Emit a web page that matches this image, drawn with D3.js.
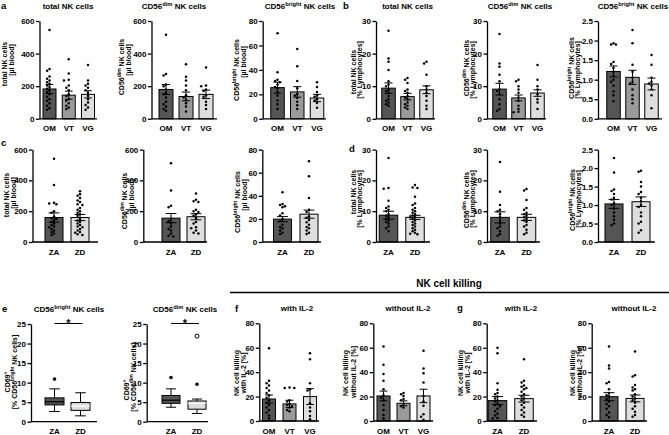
<!DOCTYPE html>
<html><head><meta charset="utf-8">
<script src="https://cdn.jsdelivr.net/npm/d3@7"></script>
<style>
html,body{margin:0;padding:0;background:#fff}
svg{display:block}
</style></head><body>
<svg id="chart" width="669" height="435"></svg>
<script>
// ---------- categories & ticks ----------
const groups3 = ["OM", "VT", "VG"];
const groups2 = ["ZA", "ZD"];
const ticksAbs = [0, 200, 400, 600];
const ticksBright = [0, 20, 40, 60, 80];
const ticksPct = [0, 10, 20, 30];
const ticksBrightPct = [0, 0.5, 1, 1.5, 2, 2.5];
const ticksCD69 = [0, 5, 10, 15, 20, 25];
const ticksKill = [0, 20, 40, 60, 80];

// ---------- a: cells / µl blood ----------
const a1_OM = [545, 305, 295, 260, 245, 235, 225, 215, 205, 195, 185, 175, 165, 150, 135, 120, 110, 95, 80, 65, 55];
const a1_VT = [365, 278, 240, 235, 205, 190, 175, 150, 140, 120, 110, 95, 80, 70, 60];
const a1_VG = [330, 235, 215, 205, 190, 175, 160, 140, 120, 100, 85, 70, 55];
const a1_mean = [183, 145, 150];
const a1_sem = [28, 25, 22];

const a2_OM = [515, 275, 265, 210, 200, 180, 160, 150, 130, 105, 90, 75, 60, 50];
const a2_VT = [335, 258, 235, 205, 175, 145, 130, 115, 95, 75, 45];
const a2_VG = [315, 205, 200, 180, 170, 145, 135, 105, 85, 60];
const a2_mean = [180, 137, 150];
const a2_sem = [30, 27, 26];

const a3_OM = [70, 38, 32, 31, 30, 28, 26, 25, 22, 19, 15, 12, 8];
const a3_VT = [57, 43, 31, 25, 20, 19, 17, 14, 11, 8];
const a3_VG = [30, 26, 22, 19, 18, 16, 15, 13, 9];
const a3_mean = [25.5, 22, 17];
const a3_sem = [4.5, 4.3, 3];

// ---------- b: % lymphocytes ----------
const b1_OM = [27, 18.5, 17.5, 15, 11.5, 10.5, 10, 9, 8.5, 8, 7, 6, 5.5, 5, 4.5, 4];
const b1_VT = [12.5, 12, 11, 9, 8.5, 8, 7, 6.5, 6, 5, 4.5, 4, 3.5, 3];
const b1_VG = [17.5, 17, 13.5, 10, 9, 8, 7, 5.5, 4, 3];
const b1_mean = [9.4, 6.8, 8.9];
const b1_sem = [1.6, 1.0, 1.2];

const b2_OM = [26, 17, 16, 13.5, 11.5, 9, 8.5, 7.5, 6, 4.5, 3, 2.5];
const b2_VT = [12, 11.5, 10, 9, 8, 6.5, 5.5, 4, 3, 2.2, 2];
const b2_VG = [16.5, 12, 10, 9, 7.5, 6, 5, 3];
const b2_mean = [9.1, 6.4, 7.9];
const b2_sem = [1.8, 0.9, 1.0];

const b3_OM = [1.93, 1.9, 1.9, 1.45, 1.4, 1.3, 1.2, 1.1, 1.0, 0.95, 0.85, 0.7, 0.6, 0.45];
const b3_VT = [2.27, 1.93, 1.38, 1.2, 1.05, 0.95, 0.9, 0.75, 0.6, 0.5, 0.4];
const b3_VG = [1.63, 1.38, 1.05, 0.95, 0.9, 0.85, 0.75, 0.6, 0.27];
const b3_mean = [1.21, 1.06, 0.89];
const b3_sem = [0.14, 0.18, 0.15];

// ---------- c: cells / µl blood, ZA vs ZD ----------
const c1_ZA = [540, 370, 255, 250, 245, 200, 190, 165, 155, 150, 140, 130, 120, 110, 100, 95, 85, 75, 65, 55, 45];
const c1_ZD = [330, 310, 300, 285, 270, 260, 245, 240, 220, 210, 200, 190, 180, 170, 150, 140, 130, 120, 110, 100, 95, 85, 75, 65, 60, 50, 45];
const c1_mean = [159, 159];
const c1_sem = [30, 20];

const c2_ZA = [512, 335, 235, 225, 150, 135, 120, 100, 85, 75, 55, 40, 35];
const c2_ZD = [315, 275, 265, 260, 210, 200, 195, 180, 170, 155, 130, 120, 95, 90, 75, 60, 55];
const c2_mean = [155, 164];
const c2_sem = [30, 20];

const c3_ZA = [43, 33, 32, 31, 30, 25, 23, 20, 18, 15, 13, 12, 10, 8, 7];
const c3_ZD = [70, 57, 38, 28, 26, 22, 21, 19, 17, 15, 13, 12, 10, 8, 7];
const c3_mean = [19.8, 24.1];
const c3_sem = [2.2, 3.5];

// ---------- d: % lymphocytes, ZA vs ZD ----------
const d1_ZA = [27.3, 17.5, 17.3, 13.4, 11.5, 11, 10.5, 10, 9, 8.5, 8, 7.5, 7, 6.5, 6, 5, 4.5, 3.5];
const d1_ZD = [18.5, 17.7, 17.5, 14.7, 12.5, 12, 11, 10.5, 10, 9.5, 9, 8.5, 8, 8, 7.5, 7, 6.5, 6, 5.5, 5, 4.5, 4, 3.5, 3, 2.7, 2.5];
const d1_mean = [8.7, 8.0];
const d1_sem = [1.3, 0.65];

const d2_ZA = [26, 16.3, 12, 10.5, 10, 9, 8, 7, 6, 5, 4.5, 3.5, 2.5, 2];
const d2_ZD = [17.2, 16.7, 13.6, 11, 10.5, 9.5, 9, 8.5, 8, 7.5, 7, 6.5, 5.5, 5, 4, 3, 2.5];
const d2_mean = [8.0, 8.0];
const d2_sem = [1.8, 1.0];

const d3_ZA = [2.27, 1.88, 1.42, 1.38, 1.3, 1.2, 1.15, 1.05, 1.0, 0.9, 0.8, 0.7, 0.6, 0.5, 0.45];
const d3_ZD = [1.93, 1.9, 1.62, 1.5, 1.35, 1.3, 1.2, 1.1, 1.0, 0.95, 0.8, 0.7, 0.55, 0.5, 0.32, 0.25];
const d3_mean = [1.03, 1.09];
const d3_sem = [0.12, 0.13];

// ---------- e: CD69+ box plots [min, q1, median, q3, max] ----------
const e1_ZA_box = [2.6, 4.3, 5.1, 6.1, 8.4];
const e1_ZD_box = [1.5, 2.9, 4.0, 4.9, 7.4];
const e1_ZA_out = [10.9];
const e1_ZD_out = [];
const e2_ZA_box = [3.7, 4.7, 5.5, 6.7, 8.4];
const e2_ZD_box = [2.1, 3.2, 4.7, 5.3, 5.8];
const e2_ZA_out = [11.3];
const e2_ZD_out = [9.6];
const e2_ZD_far = [21.9];

// ---------- f/g: NK cell killing ----------
const f1_OM = [59.5, 33, 31, 29, 27, 25, 23, 21, 19, 17, 15, 13, 11, 9, 7, 4.5, 2];
const f1_VT = [27.5, 27, 27, 17, 16, 14, 13, 12, 11, 9, 8];
const f1_VG = [55.5, 50.5, 31, 26, 25, 14.5, 11, 8, 4, 1.5];
const f1_mean = [18, 14, 20];
const f1_sem = [3.3, 3, 6.5];

const f2_OM = [61, 46, 38.5, 33, 26, 21, 19, 17, 13, 9, 5, 2];
const f2_VT = [23, 22, 20.5, 18, 17, 14, 12, 11];
const f2_VG = [57.5, 43, 39, 31.5, 20.5, 16, 12.5, 5.5, 3.5, 1];
const f2_mean = [20.5, 14.5, 20.5];
const f2_sem = [4, 2, 5.5];

const g1_ZA = [60, 55.5, 31, 25.5, 23, 22, 20, 18.5, 17, 16, 14, 13, 12, 10, 8, 6, 4.5, 2.5, 2];
const g1_ZD = [50.5, 33, 31.5, 29, 28, 27, 26, 24, 22, 20, 18.5, 17, 15, 13, 11, 9, 7, 5, 3.5];
const g1_mean = [16.7, 18.3];
const g1_sem = [3.3, 2.8];

const g2_ZA = [61, 45.5, 43, 32, 31, 26, 23, 21, 20, 18, 16, 14, 12, 10, 7, 5, 3];
const g2_ZD = [57, 37.5, 36.5, 29.5, 27.5, 26, 25, 22, 20, 18.5, 17, 15, 12, 10, 7.5, 5, 3.5];
const g2_mean = [19.9, 18.5];
const g2_sem = [3.3, 2.8];

// ---------- drawing ----------
const FONT = '"Liberation Sans", Arial, Helvetica, sans-serif';
const shades3 = ["#555555", "#9a9a9a", "#dedede"];
const shades2 = ["#555555", "#dedede"];
const svg = d3.select("#chart").attr("font-family", FONT).attr("font-weight", "bold");

function rich(textSel, str, fs) {
  const parts = str.split(/(\{[^}]*\})/).filter(s => s.length);
  let raised = false;
  parts.forEach(p => {
    if (p[0] === "{") {
      textSel.append("tspan").attr("font-size", fs * 0.72).attr("dy", -fs * 0.4).text(p.slice(1, -1));
      raised = true;
    } else {
      const t = textSel.append("tspan").attr("font-size", fs).text(p);
      if (raised) { t.attr("dy", fs * 0.4); raised = false; }
    }
  });
}

function swarm(vals, y, bw) {
  const step = 2.4;
  const maxK = Math.max(1, Math.floor((bw / 2 - 1.5) / step));
  const placed = [];
  vals.slice().sort((a, b) => b - a).forEach(v => {
    const cy = y(v);
    const cands = [0];
    for (let k = 1; k <= maxK; k++) cands.push(-k * step, k * step);
    let best = 0, bestD = -1;
    for (const dx of cands) {
      const dmin = placed.length ? d3.min(placed, q => Math.hypot(q.dx - dx, q.cy - cy)) : 99;
      if (dmin >= 2.6) { best = dx; break; }
      if (dmin > bestD) { bestD = dmin; best = dx; }
    }
    placed.push({ dx: best, cy });
  });
  return placed;
}

function frame(g, p, y, x) {
  const ax = g.append("g").attr("transform", `translate(${p.x0},0)`)
    .call(d3.axisLeft(y).tickValues(p.ticks).tickSize(3.5).tickSizeOuter(0).tickPadding(1.5)
      .tickFormat(p.fmt || d3.format("d")));
  ax.attr("font-family", FONT).attr("font-size", 8).attr("font-weight", "bold");
  ax.select(".domain").attr("stroke-width", 1.3);
  ax.selectAll(".tick line").attr("stroke-width", 1.3);
  g.append("line").attr("x1", p.x0).attr("x2", p.x1).attr("y1", y(0)).attr("y2", y(0))
    .attr("stroke", "#000").attr("stroke-width", 1.3);
  g.selectAll("text.cat").data(p.cats).join("text").attr("class", "cat")
    .attr("x", c => x(c)).attr("y", y(0) + 12.5).attr("text-anchor", "middle")
    .attr("font-size", 8).text(c => c);
  if (p.title) {
    const t = g.append("text").attr("x", p.tx).attr("y", p.ty).attr("text-anchor", "middle");
    rich(t, p.title, 8);
  }
  p.ylab.forEach((line, i) => {
    const t = g.append("text").attr("text-anchor", "middle")
      .attr("transform", `translate(${p.lx[i]},${p.ly[i]}) rotate(-90)`);
    rich(t, line, 7);
  });
}

function barPanel(p) {
  const g = svg.append("g");
  const y = d3.scaleLinear().domain([p.ticks[0], p.ticks[p.ticks.length - 1]]).range([p.yBot, p.yTop]);
  const x = d3.scalePoint().domain(p.cats).range([p.c0, p.c1]);
  const fill = d3.scaleOrdinal().domain(p.cats).range(p.cats.length === 3 ? shades3 : shades2);
  g.selectAll("rect.bar").data(p.cats).join("rect").attr("class", "bar")
    .attr("x", c => x(c) - p.bw / 2).attr("width", p.bw)
    .attr("y", (c, i) => y(p.means[i])).attr("height", (c, i) => y(0) - y(p.means[i]))
    .attr("fill", fill).attr("stroke", "#000").attr("stroke-width", 1);
  p.cats.forEach((c, i) => {
    const pos = swarm(p.points[i], y, p.bw);
    g.append("g").selectAll("circle").data(pos).join("circle")
      .attr("cx", d => x(c) + d.dx).attr("cy", d => d.cy).attr("r", 1.25).attr("fill", "#000");
  });
  p.cats.forEach((c, i) => {
    const m = p.means[i], s = p.sems[i], cx = x(c), hw = p.bw * 0.3;
    const eb = g.append("g").attr("stroke", "#000").attr("stroke-width", 1);
    eb.append("line").attr("x1", cx).attr("x2", cx).attr("y1", y(m - s)).attr("y2", y(m + s));
    [m - s, m + s].forEach(v => eb.append("line").attr("x1", cx - hw).attr("x2", cx + hw).attr("y1", y(v)).attr("y2", y(v)));
  });
  frame(g, p, y, x);
}

function boxPanel(p) {
  const g = svg.append("g");
  const y = d3.scaleLinear().domain([p.ticks[0], p.ticks[p.ticks.length - 1]]).range([p.yBot, p.yTop]);
  const x = d3.scalePoint().domain(p.cats).range([p.c0, p.c1]);
  const fill = d3.scaleOrdinal().domain(p.cats).range(shades2);
  p.cats.forEach((c, i) => {
    const [lo, q1, md, q3, hi] = p.boxes[i], cx = x(c), hw = p.bw / 2, cw = p.bw * 0.28;
    const bx = g.append("g").attr("stroke", "#000").attr("stroke-width", 1);
    bx.append("line").attr("x1", cx).attr("x2", cx).attr("y1", y(lo)).attr("y2", y(q1));
    bx.append("line").attr("x1", cx).attr("x2", cx).attr("y1", y(q3)).attr("y2", y(hi));
    [lo, hi].forEach(v => bx.append("line").attr("x1", cx - cw).attr("x2", cx + cw).attr("y1", y(v)).attr("y2", y(v)));
    bx.append("rect").attr("x", cx - hw).attr("width", p.bw).attr("y", y(q3)).attr("height", y(q1) - y(q3)).attr("fill", fill(c));
    bx.append("line").attr("x1", cx - hw).attr("x2", cx + hw).attr("y1", y(md)).attr("y2", y(md))
      .attr("stroke", i === 0 ? "#000" : "#fff").attr("stroke-width", 1.2);
    g.selectAll(null).data(p.outs[i]).join("circle").attr("cx", cx).attr("cy", v => y(v)).attr("r", 1.8).attr("fill", "#000");
    g.selectAll(null).data(p.far[i]).join("circle").attr("cx", cx).attr("cy", v => y(v)).attr("r", 2)
      .attr("fill", "#fff").attr("stroke", "#000").attr("stroke-width", 1);
  });
  const yl = y(p.ticks[p.ticks.length - 1]) - 0.5;
  g.append("line").attr("x1", x(p.cats[0])).attr("x2", x(p.cats[1]) + 2).attr("y1", yl).attr("y2", yl)
    .attr("stroke", "#000").attr("stroke-width", 1);
  g.append("text").attr("x", (x(p.cats[0]) + x(p.cats[1])) / 2 + 1).attr("y", yl + 3)
    .attr("text-anchor", "middle").attr("font-size", 11).text("*");
  frame(g, p, y, x);
}

const fmt1 = d3.format(".1f");
const R1 = { yTop: 21, yBot: 118.8 };
const R2 = { yTop: 149.6, yBot: 242 };

// row 1
barPanel({ ...R1, ticks: ticksAbs, cats: groups3, points: [a1_OM, a1_VT, a1_VG], means: a1_mean, sems: a1_sem,
  x0: 39.5, x1: 97, c0: 49.5, c1: 88, bw: 13, title: "total NK cells", tx: 68, ty: 9,
  ylab: ["total NK cells", "[µl blood]"], lx: [7, 14], ly: [64, 60] });
barPanel({ ...R1, ticks: ticksAbs, cats: groups3, points: [a2_OM, a2_VT, a2_VG], means: a2_mean, sems: a2_sem,
  x0: 151.5, x1: 217, c0: 166, c1: 206, bw: 14, title: "CD56{dim} NK cells", tx: 174, ty: 9,
  ylab: ["CD56{dim} NK cells", "[µl blood]"], lx: [124, 131], ly: [67, 60] });
barPanel({ ...R1, ticks: ticksBright, cats: groups3, points: [a3_OM, a3_VT, a3_VG], means: a3_mean, sems: a3_sem,
  x0: 262.7, x1: 326, c0: 277.5, c1: 317, bw: 13.5, title: "CD56{bright} NK cells", tx: 300, ty: 9,
  ylab: ["CD56{bright} NK cells", "[µl blood]"], lx: [238.5, 245.5], ly: [70, 62] });
barPanel({ ...R1, ticks: ticksPct, cats: groups3, points: [b1_OM, b1_VT, b1_VG], means: b1_mean, sems: b1_sem,
  x0: 376, x1: 435, c0: 388.5, c1: 426.5, bw: 13.5, title: "total NK cells", tx: 407.5, ty: 9,
  ylab: ["total NK cells", "[% Lymphocytes]"], lx: [355.5, 361.5], ly: [72, 70] });
barPanel({ ...R1, ticks: ticksPct, cats: groups3, points: [b2_OM, b2_VT, b2_VG], means: b2_mean, sems: b2_sem,
  x0: 487, x1: 546, c0: 499.5, c1: 537.5, bw: 13.5, title: "CD56{dim} NK cells", tx: 520, ty: 9,
  ylab: ["CD56{dim} NK cells", "[% Lymphocytes]"], lx: [468.5, 474.5], ly: [68, 70] });
barPanel({ ...R1, ticks: ticksBrightPct, fmt: fmt1, cats: groups3, points: [b3_OM, b3_VT, b3_VG], means: b3_mean, sems: b3_sem,
  x0: 598, x1: 662, c0: 613.5, c1: 651.5, bw: 13.5, title: "CD56{bright} NK cells", tx: 633, ty: 9,
  ylab: ["CD56{bright} NK cells", "[% Lymphocytes]"], lx: [573.5, 580], ly: [68, 70] });

// row 2
barPanel({ ...R2, ticks: ticksAbs, cats: groups2, points: [c1_ZA, c1_ZD], means: c1_mean, sems: c1_sem,
  x0: 32.5, x1: 98, c0: 54, c1: 80, bw: 18,
  ylab: ["total NK cells", "[µl blood]"], lx: [8.5, 15.5], ly: [195, 193] });
barPanel({ ...R2, ticks: ticksAbs, cats: groups2, points: [c2_ZA, c2_ZD], means: c2_mean, sems: c2_sem,
  x0: 143.3, x1: 207, c0: 171, c1: 196, bw: 18,
  ylab: ["CD56{dim} NK cells", "[µl blood]"], lx: [127, 134], ly: [201, 195] });
barPanel({ ...R2, ticks: ticksBright, cats: groups2, points: [c3_ZA, c3_ZD], means: c3_mean, sems: c3_sem,
  x0: 262.3, x1: 321, c0: 282.5, c1: 309, bw: 18,
  ylab: ["CD56{bright} NK cells", "[µl blood]"], lx: [240, 247], ly: [202, 195] });
barPanel({ ...R2, ticks: ticksPct, cats: groups2, points: [d1_ZA, d1_ZD], means: d1_mean, sems: d1_sem,
  x0: 376, x1: 430, c0: 388.5, c1: 415, bw: 18.5,
  ylab: ["total NK cells", "[% Lymphocytes]"], lx: [355.5, 361.5], ly: [192, 199] });
barPanel({ ...R2, ticks: ticksPct, cats: groups2, points: [d2_ZA, d2_ZD], means: d2_mean, sems: d2_sem,
  x0: 487, x1: 540, c0: 500, c1: 526.5, bw: 18.5,
  ylab: ["CD56{dim} NK cells", "[% Lymphocytes]"], lx: [468.5, 474.5], ly: [200, 199] });
barPanel({ ...R2, ticks: ticksBrightPct, fmt: fmt1, cats: groups2, points: [d3_ZA, d3_ZD], means: d3_mean, sems: d3_sem,
  x0: 598, x1: 655, c0: 614, c1: 641, bw: 18,
  ylab: ["CD56{bright} NK cells", "[% Lymphocytes]"], lx: [575, 581], ly: [200, 199] });

// row 3: e
boxPanel({ yTop: 324, yBot: 421.7, ticks: ticksCD69, cats: groups2,
  boxes: [e1_ZA_box, e1_ZD_box], outs: [e1_ZA_out, e1_ZD_out], far: [[], []],
  x0: 31, x1: 97, c0: 54.5, c1: 80.5, bw: 19, title: "CD56{bright} NK cells", tx: 69, ty: 312,
  ylab: ["CD69{+}", "[% CD56{bright} NK cells]"], lx: [9.5, 16.5], ly: [382, 372] });
boxPanel({ yTop: 324, yBot: 421.7, ticks: ticksCD69, cats: groups2,
  boxes: [e2_ZA_box, e2_ZD_box], outs: [e2_ZA_out, e2_ZD_out], far: [[], e2_ZD_far],
  x0: 146.7, x1: 208, c0: 171, c1: 197, bw: 18, title: "CD56{dim} NK cells", tx: 185, ty: 312,
  ylab: ["CD69{+}", "[% CD56{dim} NK cells]"], lx: [128.5, 136], ly: [390, 377] });

// row 3: f, g
const R3 = { yTop: 323.3, yBot: 421 };
barPanel({ ...R3, ticks: ticksKill, cats: groups3, points: [f1_OM, f1_VT, f1_VG], means: f1_mean, sems: f1_sem,
  x0: 259.3, x1: 319, c0: 269, c1: 310, bw: 13, title: "with IL-2", tx: 297, ty: 311,
  ylab: ["NK cell killing", "with IL-2 [%]"], lx: [238.5, 246], ly: [373, 373] });
barPanel({ ...R3, ticks: ticksKill, cats: groups3, points: [f2_OM, f2_VT, f2_VG], means: f2_mean, sems: f2_sem,
  x0: 373.3, x1: 433, c0: 383.5, c1: 423.5, bw: 13, title: "without IL-2", tx: 408, ty: 311,
  ylab: ["NK cell killing", "without IL-2 [%]"], lx: [348, 356], ly: [373, 372] });
barPanel({ ...R3, ticks: ticksKill, cats: groups2, points: [g1_ZA, g1_ZD], means: g1_mean, sems: g1_sem,
  x0: 486.7, x1: 537, c0: 497.5, c1: 524, bw: 18.5, title: "with IL-2", tx: 521, ty: 311,
  ylab: ["NK cell killing", "with IL-2 [%]"], lx: [463, 469.5], ly: [373, 373] });
barPanel({ ...R3, ticks: ticksKill, cats: groups2, points: [g2_ZA, g2_ZD], means: g2_mean, sems: g2_sem,
  x0: 591.7, x1: 647, c0: 609, c1: 635, bw: 18, title: "without IL-2", tx: 634, ty: 311,
  ylab: ["NK cell killing", "without IL-2 [%]"], lx: [575, 582], ly: [373, 372] });

// header + panel letters
svg.append("text").attr("x", 449).attr("y", 287).attr("text-anchor", "middle").attr("font-size", 10).text("NK cell killing");
svg.append("line").attr("x1", 230).attr("x2", 669).attr("y1", 292.5).attr("y2", 292.5).attr("stroke", "#000").attr("stroke-width", 1.3);
const letters = [["a", 1, 9], ["b", 343, 9], ["c", 1, 146], ["d", 349, 152], ["e", 2, 312], ["f", 235, 312], ["g", 457, 311]];
svg.selectAll("text.letter").data(letters).join("text").attr("class", "letter")
  .attr("x", d => d[1]).attr("y", d => d[2]).attr("font-size", 9.5).text(d => d[0]);
</script>
</body></html>
